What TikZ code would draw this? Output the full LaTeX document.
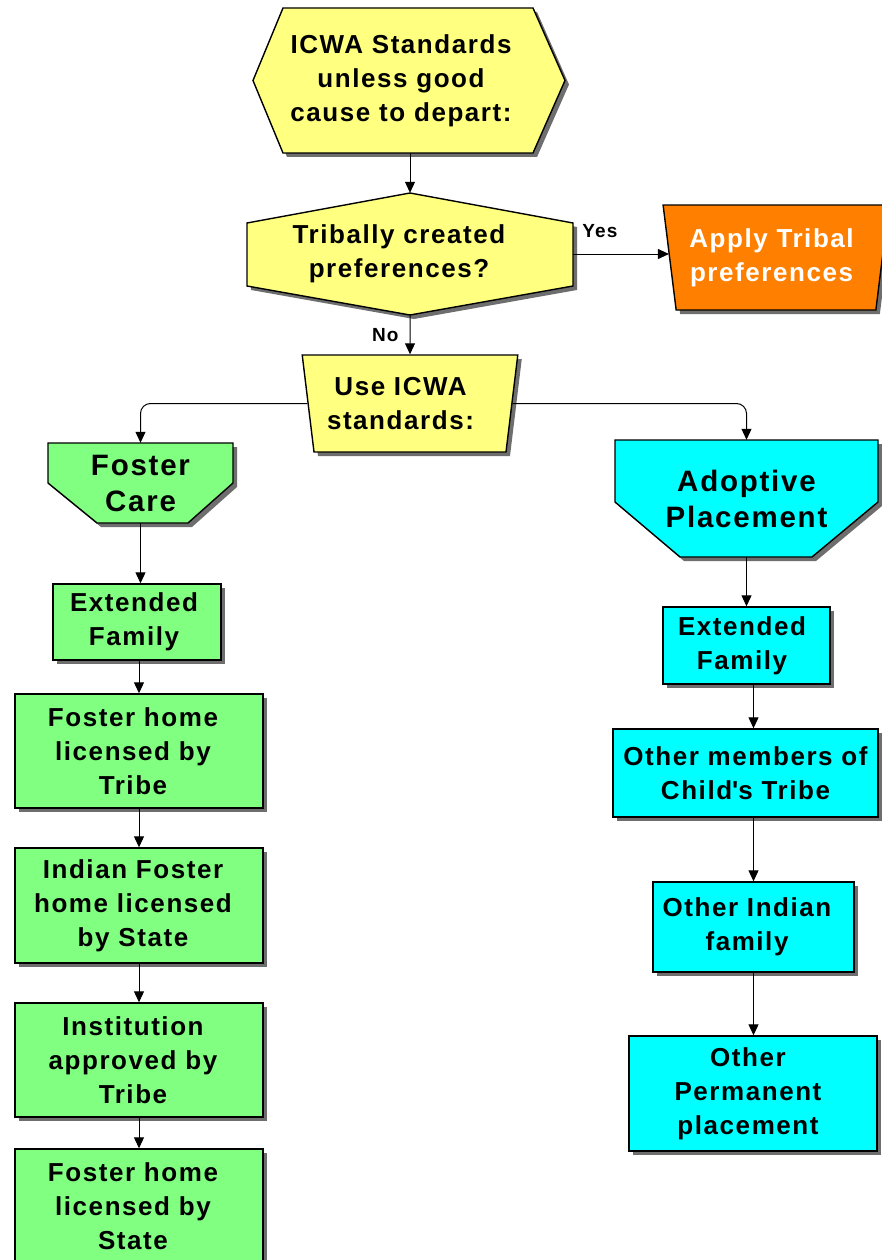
\documentclass[tikz,border=0pt]{standalone}
\usepackage{fontspec}
\setmainfont{Liberation Sans}[LetterSpace=6]
\usetikzlibrary{arrows.meta,shapes.geometric,shadows}

\definecolor{paleyellow}{HTML}{FFFF80}
\definecolor{palegreen}{HTML}{80FF80}
\definecolor{aqua}{HTML}{00FFFF}
\definecolor{deeporange}{HTML}{FF8000}
\definecolor{shadowgray}{HTML}{6E6E6E}

\tikzset{
  boxtext/.style={font=\bfseries\fontsize{26}{34}\selectfont, align=center, inner sep=0pt},
  headtext/.style={font=\bfseries\fontsize{29.5}{36}\selectfont, align=center, inner sep=0pt},
  smalltext/.style={font=\bfseries\fontsize{19}{22}\selectfont, inner sep=0pt},
  outline/.style={draw=black, line width=1.4pt},
  shadowfill/.style={fill=shadowgray},
  withshadow/.style={drop shadow={shadow xshift=4pt, shadow yshift=-4pt, fill=shadowgray, opacity=1}},
  flowbox/.style={boxtext, outline, withshadow},
  trapbox/.style={flowbox, trapezium, trapezium stretches=true, shape border rotate=180,
    trapezium left angle=79, trapezium right angle=79},
  conn/.style={-{Triangle[length=11pt,width=10pt]}, line width=1pt}
}

\begin{document}
\begin{tikzpicture}[x=1pt, y=-1pt]
  \useasboundingbox (0,0) rectangle (881,1260);

  % yellow hexagon and decision
  \fill[shadowfill, xshift=4pt, yshift=-4pt] (283,8) -- (533,8) -- (565,80.5) -- (533,153) -- (283,153) -- (253,80.5) -- cycle;
  \draw[outline, fill=paleyellow] (283,8) -- (533,8) -- (565,80.5) -- (533,153) -- (283,153) -- (253,80.5) -- cycle;
  \fill[shadowfill, xshift=4pt, yshift=-4pt] (410,193) -- (573,223) -- (573,286) -- (410,315) -- (247,286) -- (247,223) -- cycle;
  \draw[outline, fill=paleyellow] (410,193) -- (573,223) -- (573,286) -- (410,315) -- (247,286) -- (247,223) -- cycle;

  % foster care and adoptive heads
  \fill[shadowfill, xshift=4pt, yshift=-4pt] (48,443) -- (233,443) -- (233,483) -- (188,523) -- (97,523) -- (48,483) -- cycle;
  \draw[outline, fill=palegreen] (48,443) -- (233,443) -- (233,483) -- (188,523) -- (97,523) -- (48,483) -- cycle;
  \fill[shadowfill, xshift=4pt, yshift=-4pt] (615,440) -- (878,440) -- (878,502) -- (812,557) -- (680,557) -- (615,502) -- cycle;
  \draw[outline, fill=aqua] (615,440) -- (878,440) -- (878,502) -- (812,557) -- (680,557) -- (615,502) -- cycle;

  \node[boxtext, minimum width=312pt, minimum height=145pt] (std) at (409,80.5) {ICWA Standards\kern16pt\\unless good\kern16pt\\cause to depart:\kern16pt};
  \node[boxtext, minimum width=326pt, minimum height=122pt] (tribal) at (410,254) {Tribally created\kern22pt\\preferences?\kern22pt};
  \node[trapbox, fill=deeporange, text=white, minimum width=226pt, minimum height=105pt] (apply) at (776,257.5) {Apply Tribal\kern9pt\\preferences\kern9pt};
  \node[trapbox, fill=paleyellow, minimum width=216pt, minimum height=97pt] (use) at (410,403.5) {Use ICWA\kern19pt\\standards:\kern19pt};
  \node[headtext, minimum width=185pt, minimum height=80pt] (foster) at (140.5,483) {Foster\\Care};
  \node[headtext, minimum width=263pt, minimum height=117pt] (adopt) at (746.5,498.5) {Adoptive\\Placement};

  % foster care column
  \node[flowbox, fill=palegreen, minimum width=168pt, minimum height=76pt] (fext) at (137,622) {Extended\kern6pt\\Family\kern6pt};
  \node[flowbox, fill=palegreen, minimum width=248pt, minimum height=114pt] (ftribe) at (139,751) {Foster home\kern12pt\\licensed by\kern12pt\\Tribe\kern12pt};
  \node[flowbox, fill=palegreen, minimum width=248pt, minimum height=115pt] (fstate) at (139,905.5) {Indian Foster\kern12pt\\home licensed\kern12pt\\by State\kern12pt};
  \node[flowbox, fill=palegreen, minimum width=248pt, minimum height=114pt] (finst) at (139,1060) {Institution\kern12pt\\approved by\kern12pt\\Tribe\kern12pt};
  \node[flowbox, fill=palegreen, minimum width=248pt, minimum height=114pt] (fhome) at (139,1206) {Foster home\kern12pt\\licensed by\kern12pt\\State\kern12pt};

  % adoptive column
  \node[flowbox, fill=aqua, minimum width=167pt, minimum height=77pt] (aext) at (746.5,645.5) {Extended\kern9pt\\Family\kern9pt};
  \node[flowbox, fill=aqua, minimum width=265pt, minimum height=88pt] (amember) at (745.5,773) {Other members of\\Child\textquotesingle s Tribe};
  \node[flowbox, fill=aqua, minimum width=201pt, minimum height=90pt] (aindian) at (753.5,927) {Other Indian\kern13pt\\family\kern13pt};
  \node[flowbox, fill=aqua, minimum width=248pt, minimum height=115pt] (aperm) at (753,1093.5) {Other\kern10pt\\Permanent\kern10pt\\placement\kern10pt};

  % connectors
  \draw[conn] (std.south -| tribal.north) -- (tribal.north);
  \draw[conn] (tribal.east) -- (tribal.east -| apply.west) node[smalltext, pos=0.28, above=16pt] (yes) {Yes};
  \draw[conn] (tribal.south) -- (use.north) node[smalltext, pos=0.5, left=11pt] (no) {No};
  \draw[conn, rounded corners=10pt] (use.west) -| (foster.north);
  \draw[conn, rounded corners=10pt] (use.east) -| (adopt.north);
  \draw[conn] (foster.south) -- (foster.south |- fext.north);
  \draw[conn] (ftribe.north |- fext.south) -- (ftribe.north);
  \draw[conn] (ftribe.south) -- (fstate.north);
  \draw[conn] (fstate.south) -- (finst.north);
  \draw[conn] (finst.south) -- (fhome.north);
  \draw[conn] (adopt.south) -- (adopt.south |- aext.north);
  \draw[conn] (aext.south -| aindian.north) -- (amember.north -| aindian.north);
  \draw[conn] (amember.south -| aindian.north) -- (aindian.north);
  \draw[conn] (aindian.south) -- (aindian.south |- aperm.north);
\end{tikzpicture}
\end{document}
